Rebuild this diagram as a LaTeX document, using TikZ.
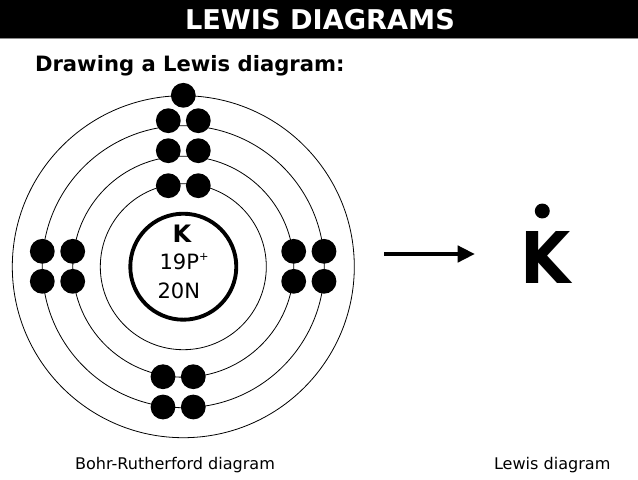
\documentclass[tikz,border=0pt]{standalone}
\usepackage{fontspec}
\setmainfont{DejaVu Sans}
\usetikzlibrary{arrows.meta}
\newcommand{\fs}[1]{\fontsize{#1}{#1}\selectfont}
\tikzset{
  px/.style={x=0.75pt,y=-0.75pt},
  orbit/.style={draw=black,line width=0.6pt,fill=none},
  electron/.style={circle,fill=black,draw=none,minimum size=18.6pt,inner sep=0pt,outer sep=0pt},
  label/.style={inner sep=0pt,outer sep=0pt,text=black},
  caption/.style={label,anchor=base west,font=\fs{12.05}},
}
\begin{document}
\begin{tikzpicture}[px]
\useasboundingbox (0,0) rectangle (638,479);
\fill[white] (0,0) rectangle (638,479);
\fill[black] (0,0) rectangle (638,38);
\fill[black!45] (0,38) rectangle (638,39);
\node[label,anchor=base,text=white,font=\bfseries\fs{20.4}] (title) at (320,29.5) {LEWIS DIAGRAMS};
\node[label,anchor=base west,font=\bfseries\fs{15.85}] (sub) at (35,71) {Drawing a Lewis diagram:};
% shells
\coordinate (c) at (183.3,266.7);
\foreach \n/\r in {s1/83,s2/110.5,s3/141,s4/171}
  \draw[orbit] (c) circle[radius=\r] coordinate (\n);
\draw[black,line width=2.9pt] (c) circle[radius=53];
% electrons
\foreach \n/\x/\y in {
 t0/183.3/95.3,
 t1/168.3/120.7,t2/198.3/120.7,
 t3/168.3/150.7,t4/198.3/150.7,
 t5/168.3/185.7,t6/198.3/185.7,
 l1/42.3/251.3,l2/72.7/251.3,l3/42.3/281.3,l4/72.7/281.3,
 r1/293.7/251.3,r2/324/251.3,r3/293.7/281.3,r4/324/281.3,
 b1/163/376.7,b2/193.3/376.7,b3/163/407,b4/193.3/407}
  \node[electron] (\n) at (\x,\y) {};
% nucleus text
\node[label,anchor=base,font=\bfseries\fs{18}] (k) at (182,242) {K};
\node[label,anchor=base west,font=\fs{15.8}] (p) at (159.5,269) {19P\raisebox{0.42em}{\fs{8.5}+}};
\node[label,anchor=base west,font=\fs{15.8}] (n) at (157.5,298) {20N};
% arrow
\coordinate (a0) at (384,254);
\coordinate (a1) at (475,254);
\draw[line width=3.6pt,-{Triangle[length=13pt,width=12pt]}] (a0) -- (a1);
% Lewis
\node[label,anchor=base,font=\bfseries\fs{53.5}] (K) at (546,283) {\scalebox{0.91}[1]{K}};
\node[circle,fill=black,minimum size=11.2pt,inner sep=0pt] (dot) at (542.3,211) {};
% captions
\node[caption] (c1) at (75,469) {Bohr-Rutherford diagram};
\node[caption] (c2) at (494,469) {Lewis diagram};
\end{tikzpicture}
\end{document}
